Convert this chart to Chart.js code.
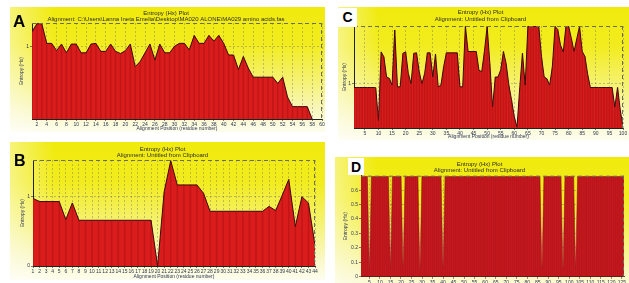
<!DOCTYPE html>
<html>
<head>
<meta charset="utf-8">
<script src="https://cdn.jsdelivr.net/npm/chart.js@4.4.1/dist/chart.umd.min.js"></script>
<style>
html, body { margin: 0; padding: 0; background: #fff; width: 629px; height: 283px; overflow: hidden; }
.panel {
    position: absolute;
    background: linear-gradient(to right, rgba(255,255,255,0.45) 0%, rgba(255,255,255,0) 14%),
                linear-gradient(to bottom, #f0ea0c 0%, #f2ec20 30%, #f5f270 58%, #f9f7bc 82%, #fdfdef 100%);
}
.tag { position: absolute; font-family: "Liberation Sans", Arial, sans-serif; font-weight: bold; color: #000; line-height: 1; }
.box { background: #fff; }
</style>
</head>
<body>
<div class="panel" style="left:10px;top:7px;width:315px;height:125px"><canvas id="canvas-a"></canvas></div>
<div class="panel" style="left:10px;top:142px;width:315px;height:138px"><canvas id="canvas-b"></canvas></div>
<div class="panel" style="left:338px;top:7px;width:291px;height:133px"><canvas id="canvas-c"></canvas></div>
<div class="panel" style="left:335px;top:157px;width:294px;height:140px"><canvas id="canvas-d"></canvas></div>
<div class="tag" style="left:13px;top:13px;font-size:17px">A</div>
<div class="tag" style="left:14px;top:153px;font-size:16px">B</div>
<div class="tag box" style="left:338px;top:8px;width:19px;height:17px;font-size:14px;text-align:center;padding-top:2px">C</div>
<div class="tag box" style="left:348px;top:158px;width:16px;height:15px;font-size:14px;text-align:center;padding-top:2px">D</div>
<script>
// entropy values per residue position
var entA = [1.20, 1.31, 1.31, 1.04, 1.04, 0.94, 1.03, 0.91, 1.03, 1.03,
            0.91, 0.91, 1.03, 1.04, 0.93, 0.93, 1.03, 0.93, 0.90, 0.94,
            1.03, 0.72, 0.79, 0.91, 1.03, 0.81, 1.03, 0.91, 0.91, 1.00,
            1.04, 1.04, 0.95, 1.15, 1.04, 1.04, 1.15, 1.07, 1.15, 1.04,
            0.88, 0.88, 0.68, 0.86, 0.70, 0.575, 0.575, 0.575, 0.575, 0.575,
            0.49, 0.575, 0.30, 0.17, 0.17, 0.17, 0.17, 0];
var entB = [0.976, 0.93, 0.93, 0.93, 0.93, 0.67, 0.91, 0.66, 0.66, 0.66,
            0.66, 0.66, 0.66, 0.66, 0.66, 0.66, 0.66, 0.66, 0.66, 0,
            1.07, 1.52, 1.17, 1.17, 1.17, 1.17, 1.05, 0.79, 0.79, 0.79,
            0.79, 0.79, 0.79, 0.79, 0.79, 0.79, 0.86, 0.80, 1.02, 1.25,
            0.57, 1.00, 0.91, 0.30];
var entC = [0.905, 0.905, 0.905, 0.905, 0.905, 0.905, 0.905, 0.905, 0.90, 0.17,
            1.70, 1.59, 1.14, 1.11, 0.96, 2.19, 0.92, 0.92, 1.67, 1.70,
            1.22, 0.99, 1.67, 1.68, 1.26, 0.99, 1.22, 1.68, 1.68, 1.14,
            1.65, 0.92, 0.96, 1.37, 1.68, 1.68, 1.68, 1.68, 1.68, 0.92,
            0.92, 2.27, 1.71, 1.71, 1.71, 1.71, 1.29, 1.26, 1.71, 2.27,
            1.44, 0.47, 1.14, 1.14, 1.30, 1.71, 1.44, 0.96, 0.62, 0.25,
            0.02, 0.90, 1.67, 0.96, 2.27, 2.27, 2.27, 2.27, 2.27, 1.60,
            1.14, 1.10, 0.96, 1.37, 2.27, 2.20, 1.85, 1.70, 2.27, 2.27,
            2.00, 1.71, 2.00, 2.27, 1.71, 1.60, 1.20, 0.905, 0.905, 0.905,
            0.905, 0.905, 0.905, 0.905, 0.905, 0.905, 0.47, 0.905, 0.40, 0.02];
var entD = [0.695, 0.695, 0.695, 0.695, 0.05, 0.695, 0.695, 0.695, 0.695, 0.695,
            0.695, 0.695, 0.695, 0.695, 0.06, 0.695, 0.695, 0.695, 0.695, 0.695,
            0.07, 0.695, 0.695, 0.695, 0.695, 0.695, 0.695, 0.695, 0.05, 0.695,
            0.695, 0.695, 0.695, 0.695, 0.695, 0.695, 0.695, 0.695, 0.695, 0.06,
            0.695, 0.695, 0.695, 0.695, 0.695, 0.695, 0.695, 0.695, 0.695, 0.695,
            0.695, 0.695, 0.695, 0.695, 0.695, 0.695, 0.695, 0.695, 0.695, 0.695,
            0.695, 0.695, 0.695, 0.695, 0.695, 0.695, 0.695, 0.695, 0.695, 0.695,
            0.695, 0.695, 0.695, 0.695, 0.695, 0.695, 0.695, 0.695, 0.695, 0.695,
            0.695, 0.695, 0.695, 0.695, 0.695, 0.695, 0.06, 0.695, 0.695, 0.695,
            0.695, 0.695, 0.695, 0.695, 0.695, 0.695, 0.05, 0.695, 0.695, 0.695,
            0.695, 0.695, 0.06, 0.695, 0.695, 0.695, 0.695, 0.695, 0.695, 0.695,
            0.695, 0.695, 0.695, 0.695, 0.695, 0.695, 0.695, 0.695, 0.695, 0.695,
            0.695, 0.695, 0.695, 0.695, 0.695, 0.695];

// tick labels
var xTicksA = [2, 4, 6, 8, 10, 12, 14, 16, 18, 20, 22, 24, 26, 28, 30, 32, 34, 36, 38, 40,
               42, 44, 46, 48, 50, 52, 54, 56, 58, 60];
var xTicksB = [1, 2, 3, 4, 5, 6, 7, 8, 9, 10, 11, 12, 13, 14, 15, 16, 17, 18, 19, 20, 21, 22,
               23, 24, 25, 26, 27, 28, 29, 30, 31, 32, 33, 34, 35, 36, 37, 38, 39, 40, 41, 42, 43, 44];
var xTicksC = [5, 10, 15, 20, 25, 30, 35, 40, 45, 50, 55, 60, 65, 70, 75, 80, 85, 90, 95, 100];
var xTicksD = [5, 10, 15, 20, 25, 30, 35, 40, 45, 50, 55, 60, 65, 70, 75, 80, 85, 90, 95, 100,
               105, 110, 115, 120, 125];
var yTicksA = [1];
var yTicksB = [0, 1];
var yTicksC = [1];
var yTicksD = [0, 0.05, 0.1, 0.15, 0.2, 0.25, 0.3, 0.35, 0.4, 0.45, 0.5, 0.55, 0.6, 0.65];

var titleA = ['Entropy (Hx) Plot', 'Alignment: C:\\Users\\Lanna Ineta Emelia\\Desktop\\MA020 ALONE\\MA029 amino acids.fas'];
var titleB = ['Entropy (Hx) Plot', 'Alignment: Untitled from Clipboard'];

var FONT = '"Liberation Sans", Arial, sans-serif';

// dashed frame on top and right of the plot area
var frameDash = {
    id: 'frameDash',
    afterDatasetsDraw: function (chart) {
        var a = chart.chartArea, ctx = chart.ctx;
        ctx.save();
        ctx.strokeStyle = '#6e6e58';
        ctx.lineWidth = 1;
        ctx.setLineDash([4, 3]);
        ctx.beginPath();
        ctx.moveTo(a.left, a.top + 0.5);
        ctx.lineTo(a.right, a.top + 0.5);
        ctx.moveTo(a.right - 0.5, a.top);
        ctx.lineTo(a.right - 0.5, a.bottom);
        ctx.stroke();
        ctx.restore();
    }
};

function entropyChart(id, values, xMax, yMax, xTicks, yTicks, lay) {
    var pts = values.map(function (v, i) { return {x: i + 1, y: v}; });
    return new Chart(document.getElementById(id), {
        type: 'line',
        data: {
            datasets: [
                {
                    type: 'bar',
                    data: pts,
                    barThickness: 1,
                    backgroundColor: lay.stripe,
                    order: 0
                },
                {
                    type: 'line',
                    data: pts,
                    fill: 'origin',
                    backgroundColor: lay.red,
                    borderColor: lay.edge,
                    borderWidth: lay.bw,
                    pointRadius: 0,
                    tension: 0,
                    order: 1
                }
            ]
        },
        options: {
            responsive: true,
            maintainAspectRatio: false,
            animation: false,
            layout: {padding: {left: 0, right: lay.right, top: 0, bottom: 0}},
            plugins: {
                legend: {display: false},
                tooltip: {enabled: false},
                title: {
                    display: true,
                    text: lay.title,
                    color: '#2c2c2c',
                    font: {family: FONT, size: 6, weight: 'normal', lineHeight: lay.lh},
                    padding: {top: lay.tTop, bottom: lay.tBot}
                }
            },
            scales: {
                x: {
                    type: 'linear',
                    min: 1,
                    max: xMax,
                    offset: false,
                    afterBuildTicks: function (s) { s.ticks = xTicks.map(function (v) { return {value: v}; }); },
                    afterFit: function (s) { s.height = lay.xh; s.paddingLeft = 0; s.paddingRight = 0; },
                    grid: {offset: false, color: 'rgba(105,105,105,0.55)', lineWidth: 0.7, tickLength: 2, tickColor: '#444'},
                    border: {color: '#222', width: 1, dash: [2, 2]},
                    ticks: {
                        color: '#2e3752', font: {family: FONT, size: 5}, padding: 1,
                        maxRotation: 0, autoSkip: false,
                        callback: function (v) { return String(v); }
                    },
                    title: {
                        display: true, text: 'Alignment Position (residue number)', color: '#2e3752',
                        font: {family: FONT, size: 5}, padding: {top: 0, bottom: 0}
                    }
                },
                y: {
                    min: 0,
                    max: yMax,
                    afterBuildTicks: function (s) { s.ticks = yTicks.map(function (v) { return {value: v}; }); },
                    afterFit: function (s) { s.width = lay.yw; s.paddingTop = 0; s.paddingBottom = 0; },
                    grid: {color: 'rgba(105,105,105,0.55)', lineWidth: 0.7, tickLength: 2, tickColor: '#444'},
                    border: {color: '#222', width: 1, dash: [2, 2]},
                    ticks: {
                        color: '#2e3752', font: {family: FONT, size: 5}, padding: 1,
                        callback: function (v) { return String(v); }
                    },
                    title: {
                        display: true, text: 'Entropy (Hx)', color: '#2e3752',
                        font: {family: FONT, size: 5}, padding: {top: lay.ytp, bottom: 0}
                    }
                }
            }
        },
        plugins: [frameDash]
    });
}

entropyChart('canvas-a', entA, 60, 1.32, xTicksA, yTicksA, {
    title: titleA, lh: 1, tTop: 3, tBot: 1, right: 3, xh: 13, yw: 22, ytp: 9,
    red: '#da1c1c', edge: '#3a0707', bw: 1, stripe: 'rgba(90,0,0,0.18)'
});
entropyChart('canvas-b', entB, 44, 1.53, xTicksB, yTicksB, {
    title: titleB, lh: 1, tTop: 4, tBot: 2, right: 10, xh: 14, yw: 23, ytp: 10,
    red: '#da1c1c', edge: '#3a0707', bw: 1, stripe: 'rgba(90,0,0,0.18)'
});
entropyChart('canvas-c', entC, 100, 2.28, xTicksC, yTicksC, {
    title: titleB, lh: 1.2, tTop: 2, tBot: 2.6, right: 6, xh: 12, yw: 16, ytp: 4,
    red: '#da1c1c', edge: '#3a0707', bw: 1, stripe: 'rgba(90,0,0,0.18)'
});
entropyChart('canvas-d', entD, 126, 0.7, xTicksD, yTicksD, {
    title: titleB, lh: 1, tTop: 4, tBot: 2.7, right: 5, xh: 20.3, yw: 26, ytp: 8,
    red: '#d01c22', edge: '#8a1a14', bw: 0.5, stripe: 'rgba(110,0,0,0.22)'
});
</script>
</body>
</html>
